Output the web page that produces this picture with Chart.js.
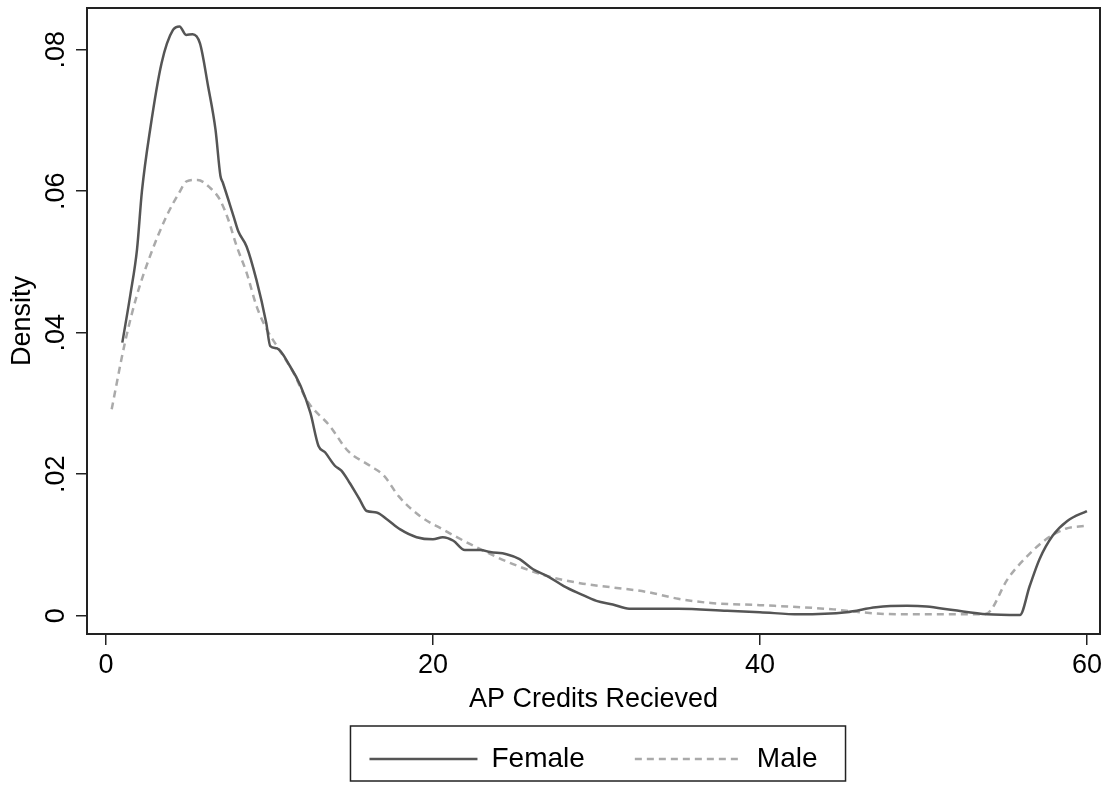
<!DOCTYPE html>
<html>
<head>
<meta charset="utf-8">
<script src="https://cdn.jsdelivr.net/npm/chart.js@4/dist/chart.umd.min.js"></script>
<style>
  body { margin: 0; background: #fff; }
  #wrap { width: 1108px; height: 785px; }
</style>
</head>
<body>
<div id="wrap"><canvas id="chart" width="1108" height="785"></canvas></div>
<script>
const femaleX = [1.0, 1.5, 1.9, 2.2, 2.7, 3.4, 4.1, 4.5, 4.9, 5.3, 5.75, 6.25, 6.7, 7.0, 7.15, 7.8, 8.1, 8.6, 9.2, 9.8, 10.05, 10.45, 11.25, 11.9, 12.5, 13.0, 13.4, 14.0, 14.4, 14.9, 15.5, 15.95, 16.55, 17.2, 18.0, 19.0, 20.0, 20.6, 21.25, 21.95, 22.9, 23.5, 24.5, 25.3, 26.1, 27.0, 28.0, 29.0, 30.0, 31.0, 32.0, 35.0, 38.0, 40.0, 42.4, 45.3, 47.1, 49.0, 50.2, 51.8, 53.9, 55.9, 56.5, 57.1, 57.9, 58.8, 60.0];
const femaleY = [.0386, .0455, .0518, .0600, .0687, .0781, .0828, .0833, .0821, .0822, .0809, .0748, .0687, .0622, .0612, .0565, .0543, .0522, .0475, .0414, .0381, .0378, .0353, .0325, .0287, .0240, .0231, .0212, .0205, .0188, .0165, .0148, .0146, .0136, .0122, .0111, .0108, .0111, .0106, .0093, .0093, .0090, .0087, .0080, .0066, .0056, .0042, .0031, .0021, .0016, .0010, .0010, .0007, .0005, .0002, .0005, .0012, .0014, .0013, .0008, .0002, .0001, .0042, .0080, .0113, .0134, .0148];

const maleX = [0.35, 1.16, 1.88, 2.69, 3.71, 4.53, 4.93, 5.6, 6.36, 6.97, 7.48, 8.0, 8.6, 9.22, 9.83, 10.6, 11.46, 12.3, 13.7, 14.8, 16.15, 17.0, 17.9, 19.2, 20.6, 22.9, 24.9, 27.0, 29.0, 31.0, 33.0, 35.0, 37.0, 40.0, 44.5, 46.1, 48.6, 51.0, 53.7, 54.1, 55.1, 56.3, 57.5, 58.7, 59.9];
const maleY = [.0292, .0386, .0452, .0508, .0565, .0600, .0614, .0616, .0605, .0588, .0560, .0522, .0485, .0437, .0405, .0376, .0344, .0304, .0268, .0233, .0212, .0198, .0169, .0141, .0122, .0094, .0073, .0056, .0046, .0040, .0034, .0024, .0018, .0015, .0009, .0005, .0002, .0002, .0002, .0007, .0050, .0083, .0108, .0123, .0127];

const seriesNames = ["Female", "Male"];
const xTicks = [0, 20, 40, 60];
const xTickLabels = ["0", "20", "40", "60"];
const yTicks = [0, 0.02, 0.04, 0.06, 0.08];
const yTickLabels = ["0", ".02", ".04", ".06", ".08"];

const font = { family: "'Liberation Sans', Arial, sans-serif", size: 27 };
const legendFont = { family: "'Liberation Sans', Arial, sans-serif", size: 28 };

function toPoints(xs, ys) {
  return xs.map((x, i) => ({ x: x, y: ys[i] }));
}

// frame round the plot region and the box round the legend
const framePlugin = {
  id: "frame",
  afterDraw(chart) {
    const ctx = chart.ctx;
    const a = chart.chartArea;
    ctx.save();
    ctx.strokeStyle = "#222";
    ctx.lineWidth = 2;
    ctx.strokeRect(a.left, a.top, a.right - a.left, a.bottom - a.top);

    const hb = chart.legend.legendHitBoxes;
    if (hb && hb.length) {
      const last = hb[hb.length - 1];
      const l = hb[0].left - 19;
      const r = last.left + last.width + 28;
      const t = hb[0].top - 19;
      const b = hb[0].top + hb[0].height + 8;
      ctx.lineWidth = 1.5;
      ctx.strokeRect(l, t, r - l, b - t);
    }
    ctx.restore();
  }
};

new Chart(document.getElementById("chart"), {
  type: "line",
  data: {
    datasets: [
      {
        label: seriesNames[0],
        data: toPoints(femaleX, femaleY),
        borderColor: "#555",
        backgroundColor: "#555",
        borderWidth: 2.5,
        pointRadius: 0,
        cubicInterpolationMode: "monotone",
      },
      {
        label: seriesNames[1],
        data: toPoints(maleX, maleY),
        borderColor: "#aaa",
        backgroundColor: "#aaa",
        borderWidth: 2.5,
        borderDash: [7, 5],
        pointRadius: 0,
        cubicInterpolationMode: "monotone",
      },
    ],
  },
  options: {
    responsive: false,
    animation: false,
    layout: { padding: { top: 8, right: 8, left: 0, bottom: 2 } },
    plugins: {
      tooltip: { enabled: false },
      legend: {
        position: "bottom",
        fullSize: false,
        labels: {
          font: legendFont,
          color: "#000",
          usePointStyle: true,
          pointStyle: "line",
          pointStyleWidth: 108,
          boxHeight: 10,
          padding: 50,
          generateLabels: chart =>
            Chart.defaults.plugins.legend.labels.generateLabels(chart).map((item, i) => {
              const ds = chart.data.datasets[i];
              item.lineDash = ds.borderDash || [];
              item.strokeStyle = ds.borderColor;
              item.lineWidth = ds.borderWidth;
              return item;
            }),
        },
      },
    },
    scales: {
      x: {
        type: "linear",
        min: -1.16,
        max: 60.8,
        afterBuildTicks: s => { s.ticks = xTicks.map(v => ({ value: v })); },
        afterFit: s => { s.height = 61; s.paddingLeft = 0; s.paddingRight = 0; },
        border: { display: false },
        grid: { drawOnChartArea: false, drawTicks: true, tickLength: 11, color: "#222", lineWidth: 1.5 },
        ticks: { font: font, color: "#000", padding: 4, maxRotation: 0, callback: (v, i) => xTickLabels[i] },
        title: { display: true, text: "AP Credits Recieved", font: font, color: "#000", padding: { top: 0, bottom: -21 } },
      },
      y: {
        type: "linear",
        min: -0.00258,
        max: 0.0859,
        afterBuildTicks: s => { s.ticks = yTicks.map(v => ({ value: v })); },
        afterFit: s => { s.width = 87; s.paddingTop = 0; s.paddingBottom = 0; },
        border: { display: false },
        grid: { drawOnChartArea: false, drawTicks: true, tickLength: 11, color: "#222", lineWidth: 1.5 },
        ticks: { font: font, color: "#000", padding: 1, minRotation: 90, maxRotation: 90, crossAlign: "center", callback: (v, i) => yTickLabels[i] },
        title: { display: true, text: "Density", font: font, color: "#000", padding: { top: 6, bottom: 0 } },
      },
    },
  },
  plugins: [framePlugin],
});
</script>
</body>
</html>
